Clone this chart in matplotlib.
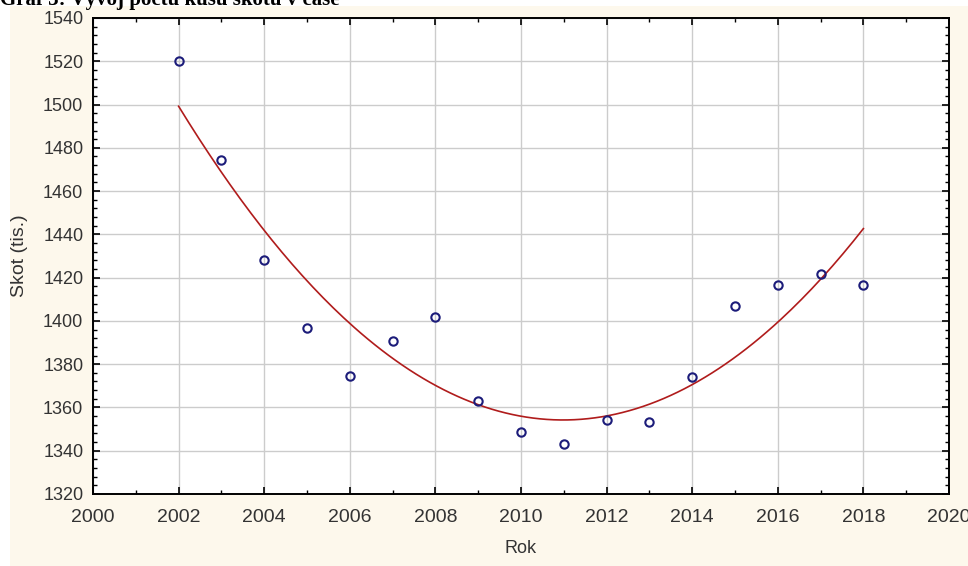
import numpy as np
import matplotlib.pyplot as plt
from matplotlib.patches import Rectangle
from matplotlib.ticker import MultipleLocator

# data
roky = [2002, 2003, 2004, 2005, 2006, 2007, 2008, 2009, 2010,
        2011, 2012, 2013, 2014, 2015, 2016, 2017, 2018]
skot = [1520.0, 1474.5, 1428.0, 1396.5, 1374.5, 1390.8, 1401.7, 1363.0, 1348.5,
        1343.2, 1354.2, 1353.4, 1374.2, 1406.9, 1416.5, 1421.8, 1416.5]

x_ticks = list(range(2000, 2021, 2))
y_ticks = list(range(1320, 1541, 20))

plt.rcParams['font.family'] = ['Liberation Sans', 'DejaVu Sans']

fig = plt.figure(figsize=(9.68, 5.66), dpi=100, facecolor="white")
# cream panel behind the chart
fig.patches.append(Rectangle((10 / 968, 0), 1, 1 - 6 / 566, transform=fig.transFigure,
                             facecolor="#fdf8ec", edgecolor="none", zorder=-1))

ax = fig.add_axes([93 / 968, 72 / 566, 856 / 968, 476 / 566])
ax.set_facecolor("white")

# quadratic fit like the original
coef = np.polyfit(roky, skot, 2)
xs = np.linspace(roky[0], roky[-1], 200)
ax.plot(xs, np.polyval(coef, xs), color="#b01c1c", lw=1.2, zorder=3)
ax.plot(roky, skot, "o", ms=6, mfc="none", mec="#1c1c7a", mew=1.5, zorder=4)

ax.set_xlim(2000, 2020)
ax.set_ylim(1320, 1540)
ax.set_xticks(x_ticks)
ax.set_yticks(y_ticks)
ax.xaxis.set_minor_locator(MultipleLocator(1))
ax.yaxis.set_minor_locator(MultipleLocator(4))
ax.tick_params(which="both", direction="in", top=True, right=True, color="black")
ax.tick_params(which="major", length=5, width=1.2, labelcolor="#333333")
ax.tick_params(which="minor", length=3, width=1)
ax.tick_params(axis="x", which="major", labelsize=14, pad=11)
ax.tick_params(axis="y", which="major", labelsize=13, pad=7)
ax.grid(True, which="major", color="#cccccc", lw=1)
ax.set_axisbelow(True)
for s in ax.spines.values():
    s.set_linewidth(1.4)

ax.set_xlabel("Rok", fontsize=13, color="#333333", labelpad=10)
ax.set_ylabel("Skot (tis.)", fontsize=14, color="#333333", labelpad=11)

# title is cut off at the top edge of the original image
fig.text(0.0, 1 - 5 / 566, "Graf 3: Vývoj počtu kusů skotu v čase", fontsize=15,
         fontweight="bold", family="Liberation Serif", va="baseline", ha="left", zorder=5)

fig.savefig("out.png", dpi=100, facecolor=fig.get_facecolor())
